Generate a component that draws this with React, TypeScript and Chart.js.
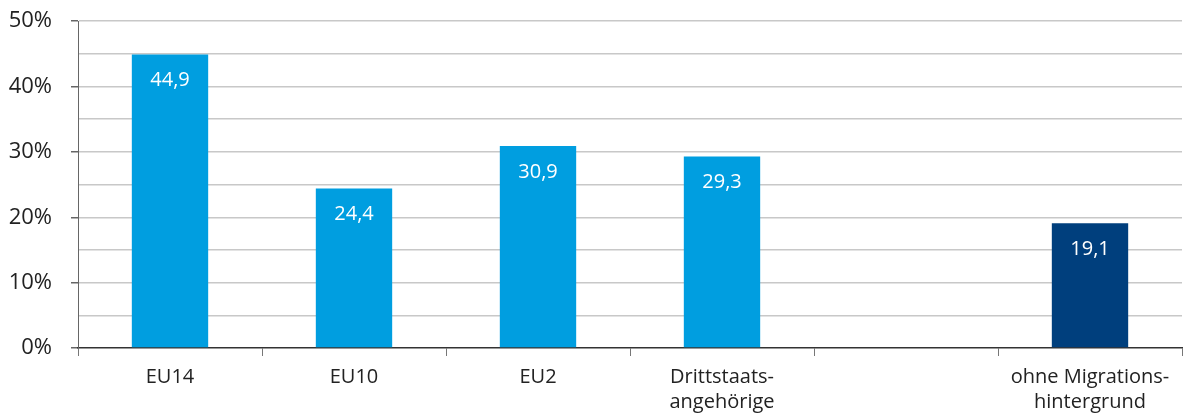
import React, { useEffect, useRef } from "react";
import { Chart, registerables } from "chart.js";

Chart.register(...registerables);

const categories: (string | string[])[] = [
  "EU14",
  "EU10",
  "EU2",
  ["Drittstaats-", "angehörige"],
  "",
  ["ohne Migrations-", "hintergrund"],
];
const values: (number | null)[] = [44.9, 24.4, 30.9, 29.3, null, 19.1];
const valueLabels: string[] = ["44,9", "24,4", "30,9", "29,3", "", "19,1"];
const barColors: string[] = ["#009ee0", "#009ee0", "#009ee0", "#009ee0", "#009ee0", "#003f7d"];
const yMin = 0;
const yMax = 50;
const yStep = 5;

const FONT = "'Open Sans', 'Noto Sans', sans-serif";

const valueLabelPlugin = {
  id: "valueLabels",
  afterDatasetsDraw(chart: any) {
    const ctx = chart.ctx;
    const meta = chart.getDatasetMeta(0);
    ctx.save();
    ctx.fillStyle = "#ffffff";
    ctx.font = `20px ${FONT}`;
    ctx.textAlign = "center";
    ctx.textBaseline = "middle";
    meta.data.forEach((bar: any, i: number) => {
      if (values[i] == null) return;
      ctx.fillText(valueLabels[i], bar.x, bar.y + 26);
    });
    ctx.restore();
  },
};

export default function App() {
  const ref = useRef<HTMLCanvasElement | null>(null);
  useEffect(() => {
    if (!ref.current) return;
    const chart = new Chart(ref.current, {
      type: "bar",
      data: {
        labels: categories,
        datasets: [
          {
            data: values,
            backgroundColor: barColors,
            barPercentage: 0.415,
            categoryPercentage: 1,
          },
        ],
      },
      options: {
        animation: false,
        responsive: true,
        maintainAspectRatio: false,
        layout: { padding: { top: 10, left: 0, right: 2, bottom: 0 } },
        plugins: { legend: { display: false }, tooltip: { enabled: false } },
        scales: {
          x: {
            offset: true,
            afterFit: (s: any) => {
              s.height = 68;
            },
            grid: {
              offset: true,
              drawOnChartArea: false,
              drawTicks: true,
              tickLength: 8,
              color: "#777",
              lineWidth: 1,
            },
            border: { display: true, color: "#333", width: 1.5 },
            ticks: {
              color: "#222",
              font: { family: FONT, size: 20, lineHeight: 1.25 },
              padding: 9,
              maxRotation: 0,
              autoSkip: false,
            },
          },
          y: {
            min: yMin,
            max: yMax,
            afterFit: (s: any) => {
              s.width = 78;
            },
            ticks: {
              stepSize: yStep,
              padding: 19,
              color: "#222",
              font: { family: FONT, size: 22 },
              callback: (v: any) => (Number(v) % 10 === 0 ? `${v}%` : ""),
            },
            grid: {
              color: (c: any) => (c.tick && c.tick.value === 0 ? "rgba(0,0,0,0)" : "#c8c8c8"),
              lineWidth: 1.5,
              tickLength: 7,
              tickColor: (c: any) => (c.tick && Number(c.tick.value) % 10 === 0 ? "#666" : "rgba(0,0,0,0)"),
            },
            border: { display: true, color: "#666", width: 1 },
          },
        },
      },
      plugins: [valueLabelPlugin],
    });
    return () => chart.destroy();
  }, []);
  return (
    <div style={{ position: "absolute", left: 0, top: -11, width: 1184, height: 427 }}>
      <canvas ref={ref} />
    </div>
  );
}
